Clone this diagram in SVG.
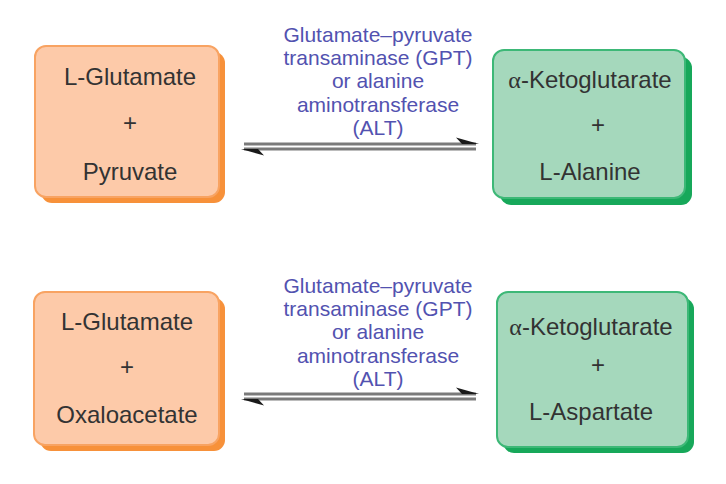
<svg xmlns="http://www.w3.org/2000/svg" width="726" height="484" viewBox="0 0 726 484">
<style>
.bg{fill:#ffffff}
.osh{fill:#f7913a}
.obox{fill:#fdcaa9;stroke:#f8a362;stroke-width:2}
.gsh{fill:#17a85a}
.gbox{fill:#a5d8bc;stroke:#3db877;stroke-width:2}
.t{font-family:"Liberation Sans",Arial,sans-serif;font-size:24px;fill:#333333;text-anchor:middle}
.a{font-family:"Liberation Serif","Times New Roman",serif}
.lbl{font-family:"Liberation Sans",Arial,sans-serif;font-size:21px;fill:#5252b0;text-anchor:middle}
.ln{stroke:#7a7a7a;stroke-width:3;fill:none}
.barb{fill:#1a1a1a}
</style>
<rect class="bg" x="0" y="0" width="726" height="484"/>
<g id="node-glu-pyr">
<rect class="osh" x="41" y="52" width="184" height="151" rx="11"/>
<rect class="obox" x="35" y="46" width="184" height="151" rx="11"/>
<text class="t" x="130" y="85">L-Glutamate</text>
<text class="t" x="130" y="131">+</text>
<text class="t" x="130" y="180">Pyruvate</text>
</g>
<g id="node-akg-ala">
<rect class="gsh" x="500" y="57" width="192" height="148" rx="11"/>
<rect class="gbox" x="493" y="50" width="192" height="148" rx="11"/>
<text class="t" x="590" y="88"><tspan class="a">α</tspan>-Ketoglutarate</text>
<text class="t" x="598" y="133">+</text>
<text class="t" x="590" y="180">L-Alanine</text>
</g>
<g id="node-glu-oaa">
<rect class="osh" x="40" y="298" width="185" height="153" rx="11"/>
<rect class="obox" x="34" y="292" width="185" height="153" rx="11"/>
<text class="t" x="127" y="330">L-Glutamate</text>
<text class="t" x="127" y="375">+</text>
<text class="t" x="127" y="423">Oxaloacetate</text>
</g>
<g id="node-akg-asp">
<rect class="gsh" x="503" y="298" width="191" height="155" rx="11"/>
<rect class="gbox" x="497" y="292" width="191" height="155" rx="11"/>
<text class="t" x="591" y="335"><tspan class="a">α</tspan>-Ketoglutarate</text>
<text class="t" x="598" y="373">+</text>
<text class="t" x="591" y="420">L-Aspartate</text>
</g>
<g id="connectors">
<g id="eq-top">
<line class="ln" x1="244" y1="144" x2="476" y2="144"/>
<polygon class="barb" points="479,144 456,137.5 462,144"/>
<line class="ln" x1="244" y1="149" x2="476" y2="149"/>
<polygon class="barb" points="241,149 264,155.5 258,149"/>
<text class="lbl" x="378" y="42">Glutamate–pyruvate</text>
<text class="lbl" x="378" y="65">transaminase (GPT)</text>
<text class="lbl" x="378" y="88">or alanine</text>
<text class="lbl" x="378" y="112">aminotransferase</text>
<text class="lbl" x="378" y="135">(ALT)</text>
</g>
<g id="eq-bottom">
<line class="ln" x1="244" y1="394" x2="476" y2="394"/>
<polygon class="barb" points="479,394 456,387.5 462,394"/>
<line class="ln" x1="244" y1="399" x2="476" y2="399"/>
<polygon class="barb" points="241,399 264,405.5 258,399"/>
<text class="lbl" x="378" y="293">Glutamate–pyruvate</text>
<text class="lbl" x="378" y="316">transaminase (GPT)</text>
<text class="lbl" x="378" y="339">or alanine</text>
<text class="lbl" x="378" y="363">aminotransferase</text>
<text class="lbl" x="378" y="386">(ALT)</text>
</g>
</g>
</svg>
